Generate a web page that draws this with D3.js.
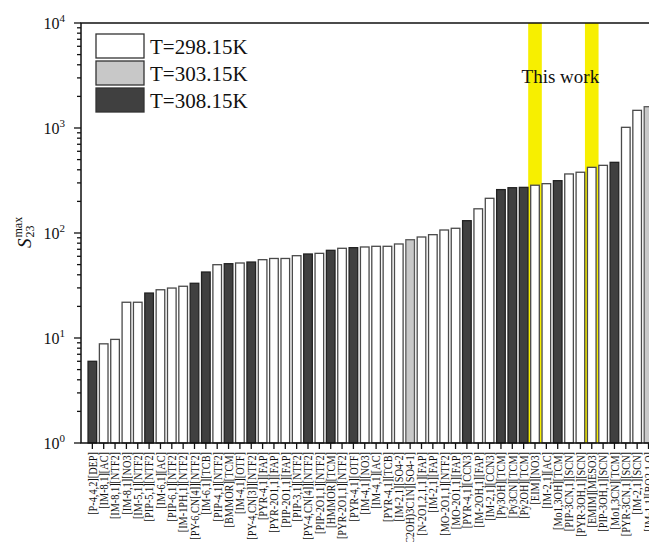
<!DOCTYPE html>
<html>
<head>
<meta charset="utf-8">
<script src="https://cdn.jsdelivr.net/npm/d3@7"></script>
<style>
  body { margin: 0; background: #fff; }
  svg { display: block; font-family: "Liberation Serif", "Times New Roman", serif; }
</style>
</head>
<body>
<div id="chart"></div>
<script>
// ── Data ──────────────────────────────────────────────────────────────────
const categories = [
  "[P-4,4,2][DEP]", "[IM-8,1][AC]", "[IM-8,1][NTF2]", "[IM-8,1][NO3]", "[IM-5,1][NTF2]",
  "[PIP-5,1][NTF2]", "[IM-6,1][AC]", "[PIP-6,1][NTF2]", "[IM-1PH,1][NTF2]", "[PY-6,CN[4]][NTF2]",
  "[IM-6,1][TCB]", "[PIP-4,1][NTF2]", "[BMMOR][TCM]", "[IM-4,1][OTF]", "[PY-4,CN[3]][NTF2]",
  "[PYR-4,1][FAP]", "[PYR-2O1,1][FAP]", "[PIP-2O1,1][FAP]", "[PIP-3,1][NTF2]", "[PY-4,CN[4]][NTF2]",
  "[PIP-2O1,1][NTF2]", "[HMMOR][TCM]", "[PYR-2O1,1][NTF2]", "[PYR-4,1][OTF]", "[IM-4,1][NO3]",
  "[IM-4,1][AC]", "[PYR-4,1][TCB]", "[IM-2,1][SO4-2]", "[N(C2OH)3C1N][SO4-1]", "[N-2O1,2,1,1][FAP]",
  "[IM-2,1][FAP]", "[MO-2O1,1][NTF2]", "[MO-2O1,1][FAP]", "[PYR-4,1][CCN3]", "[IM-2OH,1][FAP]",
  "[IM-2,1][CCN3]", "[Py3OH][TCM]", "[Py3CN][TCM]", "[Py2OH][TCM]", "[EIM][NO3]",
  "[IM-2,1][AC]", "[Mo1,3OH][TCM]", "[PIP-3CN,1][SCN]", "[PYR-3OH,1][SCN]", "[EMIM][MESO3]",
  "[PIP-3OH,1][SCN]", "[Mo1,3CN][TCM]", "[PYR-3CN,1][SCN]", "[IM-2,1][SCN]", "[IM-1,1][BO2,1,O]"
];
const values = [
  6.0, 8.8, 9.7, 21.9, 21.9, 26.8, 28.8, 29.9, 31.1, 33.2,
  42.5, 49.9, 51.0, 51.8, 52.9, 55.7, 57.2, 57.2, 60.8, 63.1,
  64.0, 68.4, 71.5, 72.5, 73.6, 74.7, 74.7, 78.6, 86.3, 91.6,
  96.4, 106.8, 110.9, 131, 170, 214, 259, 270, 272, 285,
  295, 315, 365, 379, 422, 441, 471, 1015, 1473, 1596
];
const temps = [
  308.15, 298.15, 298.15, 298.15, 298.15, 308.15, 298.15, 298.15, 298.15, 308.15,
  308.15, 298.15, 308.15, 298.15, 308.15, 298.15, 298.15, 298.15, 298.15, 308.15,
  298.15, 308.15, 298.15, 308.15, 298.15, 298.15, 298.15, 298.15, 303.15, 298.15,
  298.15, 298.15, 298.15, 308.15, 298.15, 298.15, 308.15, 308.15, 308.15, 298.15,
  298.15, 308.15, 298.15, 298.15, 298.15, 298.15, 308.15, 298.15, 298.15, 303.15
];
const highlighted = ["[EIM][NO3]", "[EMIM][MESO3]"];
const tempLevels = [298.15, 303.15, 308.15];
const legendLabels = ["T=298.15K", "T=303.15K", "T=308.15K"];
const decades = [1, 10, 100, 1000, 10000];

const data = categories.map((c, i) => ({ name: c, value: values[i], temp: temps[i] }));

// ── Layout ────────────────────────────────────────────────────────────────
const W = 649, H = 542;
const M = { left: 81, top: 23, bottom: 443 };
const STEP = 11.35;
const right = M.left + STEP * (categories.length + 1);

const fill = d3.scaleOrdinal().domain(tempLevels).range(["#ffffff", "#c8c8c8", "#404040"]);
const stroke = d3.scaleOrdinal().domain(tempLevels).range(["#4a4a4a", "#5a5a5a", "#222222"]);

const x = d3.scaleBand()
  .domain(categories)
  .range([M.left, right])
  .paddingInner(0.24)
  .paddingOuter(0.62);
const y = d3.scaleLog().domain([1, 1e4]).range([M.bottom, M.top]);

const svg = d3.select("#chart").append("svg").attr("width", W).attr("height", H);

// ── Highlight bands ("This work") ─────────────────────────────────────────
const bandW = STEP * 1.2;
svg.append("g")
  .selectAll("rect")
  .data(highlighted)
  .join("rect")
  .attr("x", (d) => x(d) + x.bandwidth() / 2 - bandW / 2)
  .attr("y", M.top)
  .attr("width", bandW)
  .attr("height", M.bottom - M.top)
  .attr("fill", "#f7ef00");

svg.append("text")
  .attr("x", (x(highlighted[0]) + x(highlighted[1]) + x.bandwidth()) / 2 - 3)
  .attr("y", 83)
  .attr("text-anchor", "middle")
  .attr("font-size", 19)
  .attr("fill", "#111")
  .text("This work");

// ── Bars ──────────────────────────────────────────────────────────────────
svg.append("g")
  .selectAll("rect")
  .data(data)
  .join("rect")
  .attr("x", (d) => x(d.name))
  .attr("y", (d) => y(d.value))
  .attr("width", x.bandwidth())
  .attr("height", (d) => M.bottom - y(d.value))
  .attr("fill", (d) => fill(d.temp))
  .attr("stroke", (d) => stroke(d.temp))
  .attr("stroke-width", 1.3);

// ── Frame ─────────────────────────────────────────────────────────────────
svg.append("rect")
  .attr("x", M.left)
  .attr("y", M.top)
  .attr("width", right - M.left)
  .attr("height", M.bottom - M.top)
  .attr("fill", "none")
  .attr("stroke", "#111")
  .attr("stroke-width", 1.5);

// ── Y axis (log, outward ticks) ───────────────────────────────────────────
const minor = [];
decades.slice(0, -1).forEach((d) => { for (let k = 2; k <= 9; k++) minor.push(d * k); });
const yAxis = svg.append("g").attr("stroke", "#111").attr("stroke-width", 1.3);
yAxis.selectAll("line.major")
  .data(decades)
  .join("line")
  .attr("class", "major")
  .attr("x1", M.left - 7).attr("x2", M.left)
  .attr("y1", (d) => y(d)).attr("y2", (d) => y(d));
yAxis.selectAll("line.minor")
  .data(minor)
  .join("line")
  .attr("class", "minor")
  .attr("x1", M.left - 4).attr("x2", M.left)
  .attr("y1", (d) => y(d)).attr("y2", (d) => y(d));

const yLab = svg.append("g").selectAll("text")
  .data(decades)
  .join("text")
  .attr("x", M.left - 16)
  .attr("y", (d) => y(d) + 6)
  .attr("text-anchor", "end")
  .attr("font-size", 16)
  .attr("fill", "#111");
yLab.append("tspan").text("10");
yLab.append("tspan")
  .attr("dy", -7)
  .attr("font-size", 11)
  .text((d) => Math.round(Math.log10(d)));

// Y title: S_23^max
const yt = svg.append("text")
  .attr("transform", "translate(31,248) rotate(-90)")
  .attr("font-size", 19)
  .attr("fill", "#111");
yt.append("tspan").attr("font-style", "italic").text("S");
yt.append("tspan").attr("font-size", 12).attr("dx", 1).attr("dy", 3).text("23");
yt.append("tspan").attr("font-size", 12).attr("dx", -12).attr("dy", -12).text("max");

// ── X axis (ticks at bar centres, rotated labels) ─────────────────────────
const xAxis = svg.append("g")
  .attr("transform", `translate(0,${M.bottom})`)
  .call(d3.axisBottom(x).tickSize(6).tickSizeOuter(0));
xAxis.select(".domain").remove();
xAxis.selectAll(".tick line").attr("stroke", "#111").attr("stroke-width", 1.3);
xAxis.selectAll(".tick text")
  .attr("font-family", "Liberation Serif, Times New Roman, serif")
  .attr("font-size", 10.3)
  .attr("fill", "#111")
  .attr("transform", "rotate(-90) scale(1,1.2)")
  .attr("text-anchor", "end")
  .attr("x", -9)
  .attr("y", 0)
  .attr("dy", "0.35em");

// ── Legend ────────────────────────────────────────────────────────────────
const leg = svg.append("g").attr("transform", "translate(96,34)");
const row = leg.selectAll("g")
  .data(tempLevels)
  .join("g")
  .attr("transform", (d, i) => `translate(0,${i * 27})`);
row.append("rect")
  .attr("width", 48)
  .attr("height", 24)
  .attr("fill", (d) => fill(d))
  .attr("stroke", "#333")
  .attr("stroke-width", 1.3);
row.append("text")
  .attr("x", 54)
  .attr("y", 20)
  .attr("font-size", 21)
  .attr("fill", "#111")
  .text((d, i) => legendLabels[i]);
</script>
</body>
</html>
